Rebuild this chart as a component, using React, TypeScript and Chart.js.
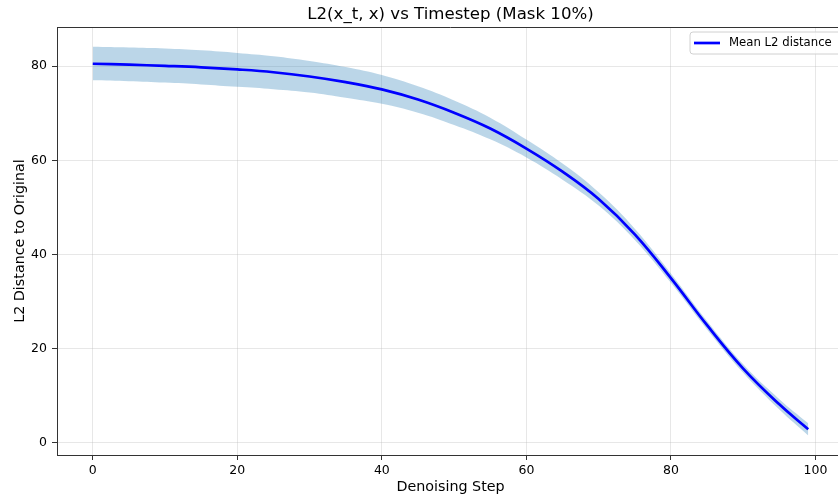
import React, { useEffect, useRef } from "react";
import { Chart, registerables } from "chart.js";

Chart.register(...registerables);

const steps = [0, 5, 10, 15, 20, 25, 30, 35, 40, 45, 50, 55, 60, 65, 70, 75, 80, 85, 90, 95, 99];
const meanL2 = [80.5, 80.3, 80.05, 79.75, 79.3, 78.7, 77.8, 76.6, 75.05, 72.9, 70.1, 66.75, 62.5, 57.6, 51.8, 44.3, 35.0, 25.0, 15.8, 8.2, 2.9];
const upperL2 = [84.1, 83.95, 83.75, 83.35, 82.8, 82.1, 81.1, 79.8, 78.1, 75.7, 72.7, 69.05, 64.4, 59.3, 53.2, 45.5, 36.0, 25.9, 16.7, 9.3, 4.2];
const lowerL2 = [77.0, 76.8, 76.5, 76.1, 75.6, 75.1, 74.4, 73.3, 72.0, 70.1, 67.5, 64.45, 60.6, 55.9, 50.4, 43.1, 34.0, 24.1, 14.9, 7.1, 1.6];
const xTicks = [0, 20, 40, 60, 80, 100];
const yTicks = [0, 20, 40, 60, 80];

const titleText = "L2(x_t, x) vs Timestep (Mask 10%)";
const legendLabel = "Mean L2 distance";
const FONT = "'DejaVu Sans', sans-serif";

const framePlugin = {
  id: "frame",
  afterDraw(chart: any) {
    const { ctx, chartArea } = chart;
    ctx.save();
    // top spine
    ctx.strokeStyle = "#333";
    ctx.lineWidth = 1;
    ctx.beginPath();
    ctx.moveTo(chartArea.left, Math.round(chartArea.top) + 0.5);
    ctx.lineTo(chartArea.right, Math.round(chartArea.top) + 0.5);
    ctx.stroke();
    // title
    ctx.fillStyle = "#000";
    ctx.font = `16.6px ${FONT}`;
    ctx.textAlign = "center";
    ctx.textBaseline = "middle";
    ctx.fillText(titleText, (chartArea.left + chartArea.right) / 2, 15);
    // legend
    const bx = 690, by = 32, bw = 155, bh = 22;
    ctx.beginPath();
    const r = 3;
    ctx.moveTo(bx + r, by);
    ctx.lineTo(bx + bw - r, by);
    ctx.arcTo(bx + bw, by, bx + bw, by + r, r);
    ctx.lineTo(bx + bw, by + bh - r);
    ctx.arcTo(bx + bw, by + bh, bx + bw - r, by + bh, r);
    ctx.lineTo(bx + r, by + bh);
    ctx.arcTo(bx, by + bh, bx, by + bh - r, r);
    ctx.lineTo(bx, by + r);
    ctx.arcTo(bx, by, bx + r, by, r);
    ctx.closePath();
    ctx.fillStyle = "rgba(255,255,255,0.8)";
    ctx.fill();
    ctx.strokeStyle = "#d0d0d0";
    ctx.lineWidth = 1;
    ctx.stroke();
    ctx.strokeStyle = "#0000ff";
    ctx.lineWidth = 2.7;
    ctx.beginPath();
    ctx.moveTo(694, 43);
    ctx.lineTo(720, 43);
    ctx.stroke();
    ctx.fillStyle = "#000";
    ctx.font = `11.7px ${FONT}`;
    ctx.textAlign = "left";
    ctx.textBaseline = "middle";
    ctx.fillText(legendLabel, 729, 43);
    ctx.restore();
  },
};

export default function App() {
  const ref = useRef<HTMLCanvasElement>(null);

  useEffect(() => {
    document.body.style.margin = "0";
    const canvas = ref.current;
    if (!canvas) return;
    const toPts = (arr: number[]) => steps.map((s, i) => ({ x: s, y: arr[i] }));
    const chart = new Chart(canvas, {
      type: "line",
      data: {
        datasets: [
          {
            label: legendLabel,
            data: toPts(meanL2),
            borderColor: "#0000ff",
            borderWidth: 2.7,
            pointRadius: 0,
            fill: false,
            tension: 0.4,
            order: 0,
          },
          {
            label: "upper",
            data: toPts(upperL2),
            borderWidth: 0,
            borderColor: "rgba(0,0,0,0)",
            backgroundColor: "rgba(31,119,180,0.3)",
            pointRadius: 0,
            fill: "+1",
            tension: 0.4,
            order: 1,
          },
          {
            label: "lower",
            data: toPts(lowerL2),
            borderWidth: 0,
            borderColor: "rgba(0,0,0,0)",
            pointRadius: 0,
            fill: false,
            tension: 0.4,
            order: 2,
          },
        ],
      },
      options: {
        animation: false,
        responsive: false,
        devicePixelRatio: 1,
        layout: { padding: { left: 0, right: 6, top: 27, bottom: 0 } },
        plugins: {
          legend: { display: false },
          title: { display: false },
          tooltip: { enabled: false },
        },
        scales: {
          x: {
            type: "linear",
            min: -4.95,
            max: 103.95,
            afterBuildTicks: (scale: any) => {
              scale.ticks = xTicks.map((v) => ({ value: v }));
            },
            afterFit: (scale: any) => {
              scale.height = 44;
            },
            ticks: {
              font: { family: FONT, size: 12.5 },
              color: "#000",
              padding: 3,
              maxRotation: 0,
            },
            grid: {
              color: "rgba(176,176,176,0.3)",
              tickColor: "#333",
              tickLength: 5,
              drawTicks: true,
            },
            border: { color: "#333", width: 1 },
            title: {
              display: true,
              text: "Denoising Step",
              font: { family: FONT, size: 14.3 },
              color: "#000",
              padding: { top: 0, bottom: 3.6 },
            },
          },
          y: {
            type: "linear",
            min: -2.55,
            max: 88.3,
            afterBuildTicks: (scale: any) => {
              scale.ticks = yTicks.map((v) => ({ value: v }));
            },
            afterFit: (scale: any) => {
              scale.width = 57;
            },
            ticks: {
              font: { family: FONT, size: 12.5 },
              color: "#000",
              padding: 5,
            },
            grid: {
              color: "rgba(176,176,176,0.3)",
              tickColor: "#333",
              tickLength: 5,
              drawTicks: true,
            },
            border: { color: "#333", width: 1 },
            title: {
              display: true,
              text: "L2 Distance to Original",
              font: { family: FONT, size: 14.3 },
              color: "#000",
              padding: { top: 11.4, bottom: 0 },
            },
          },
        },
      },
      plugins: [framePlugin],
    });
    return () => chart.destroy();
  }, []);

  return (
    <div style={{ position: "fixed", left: 0, top: 0, width: 838, height: 499, overflow: "hidden", background: "#fff" }}>
      <canvas ref={ref} width={850} height={499} style={{ display: "block", width: 850, height: 499 }} />
    </div>
  );
}
